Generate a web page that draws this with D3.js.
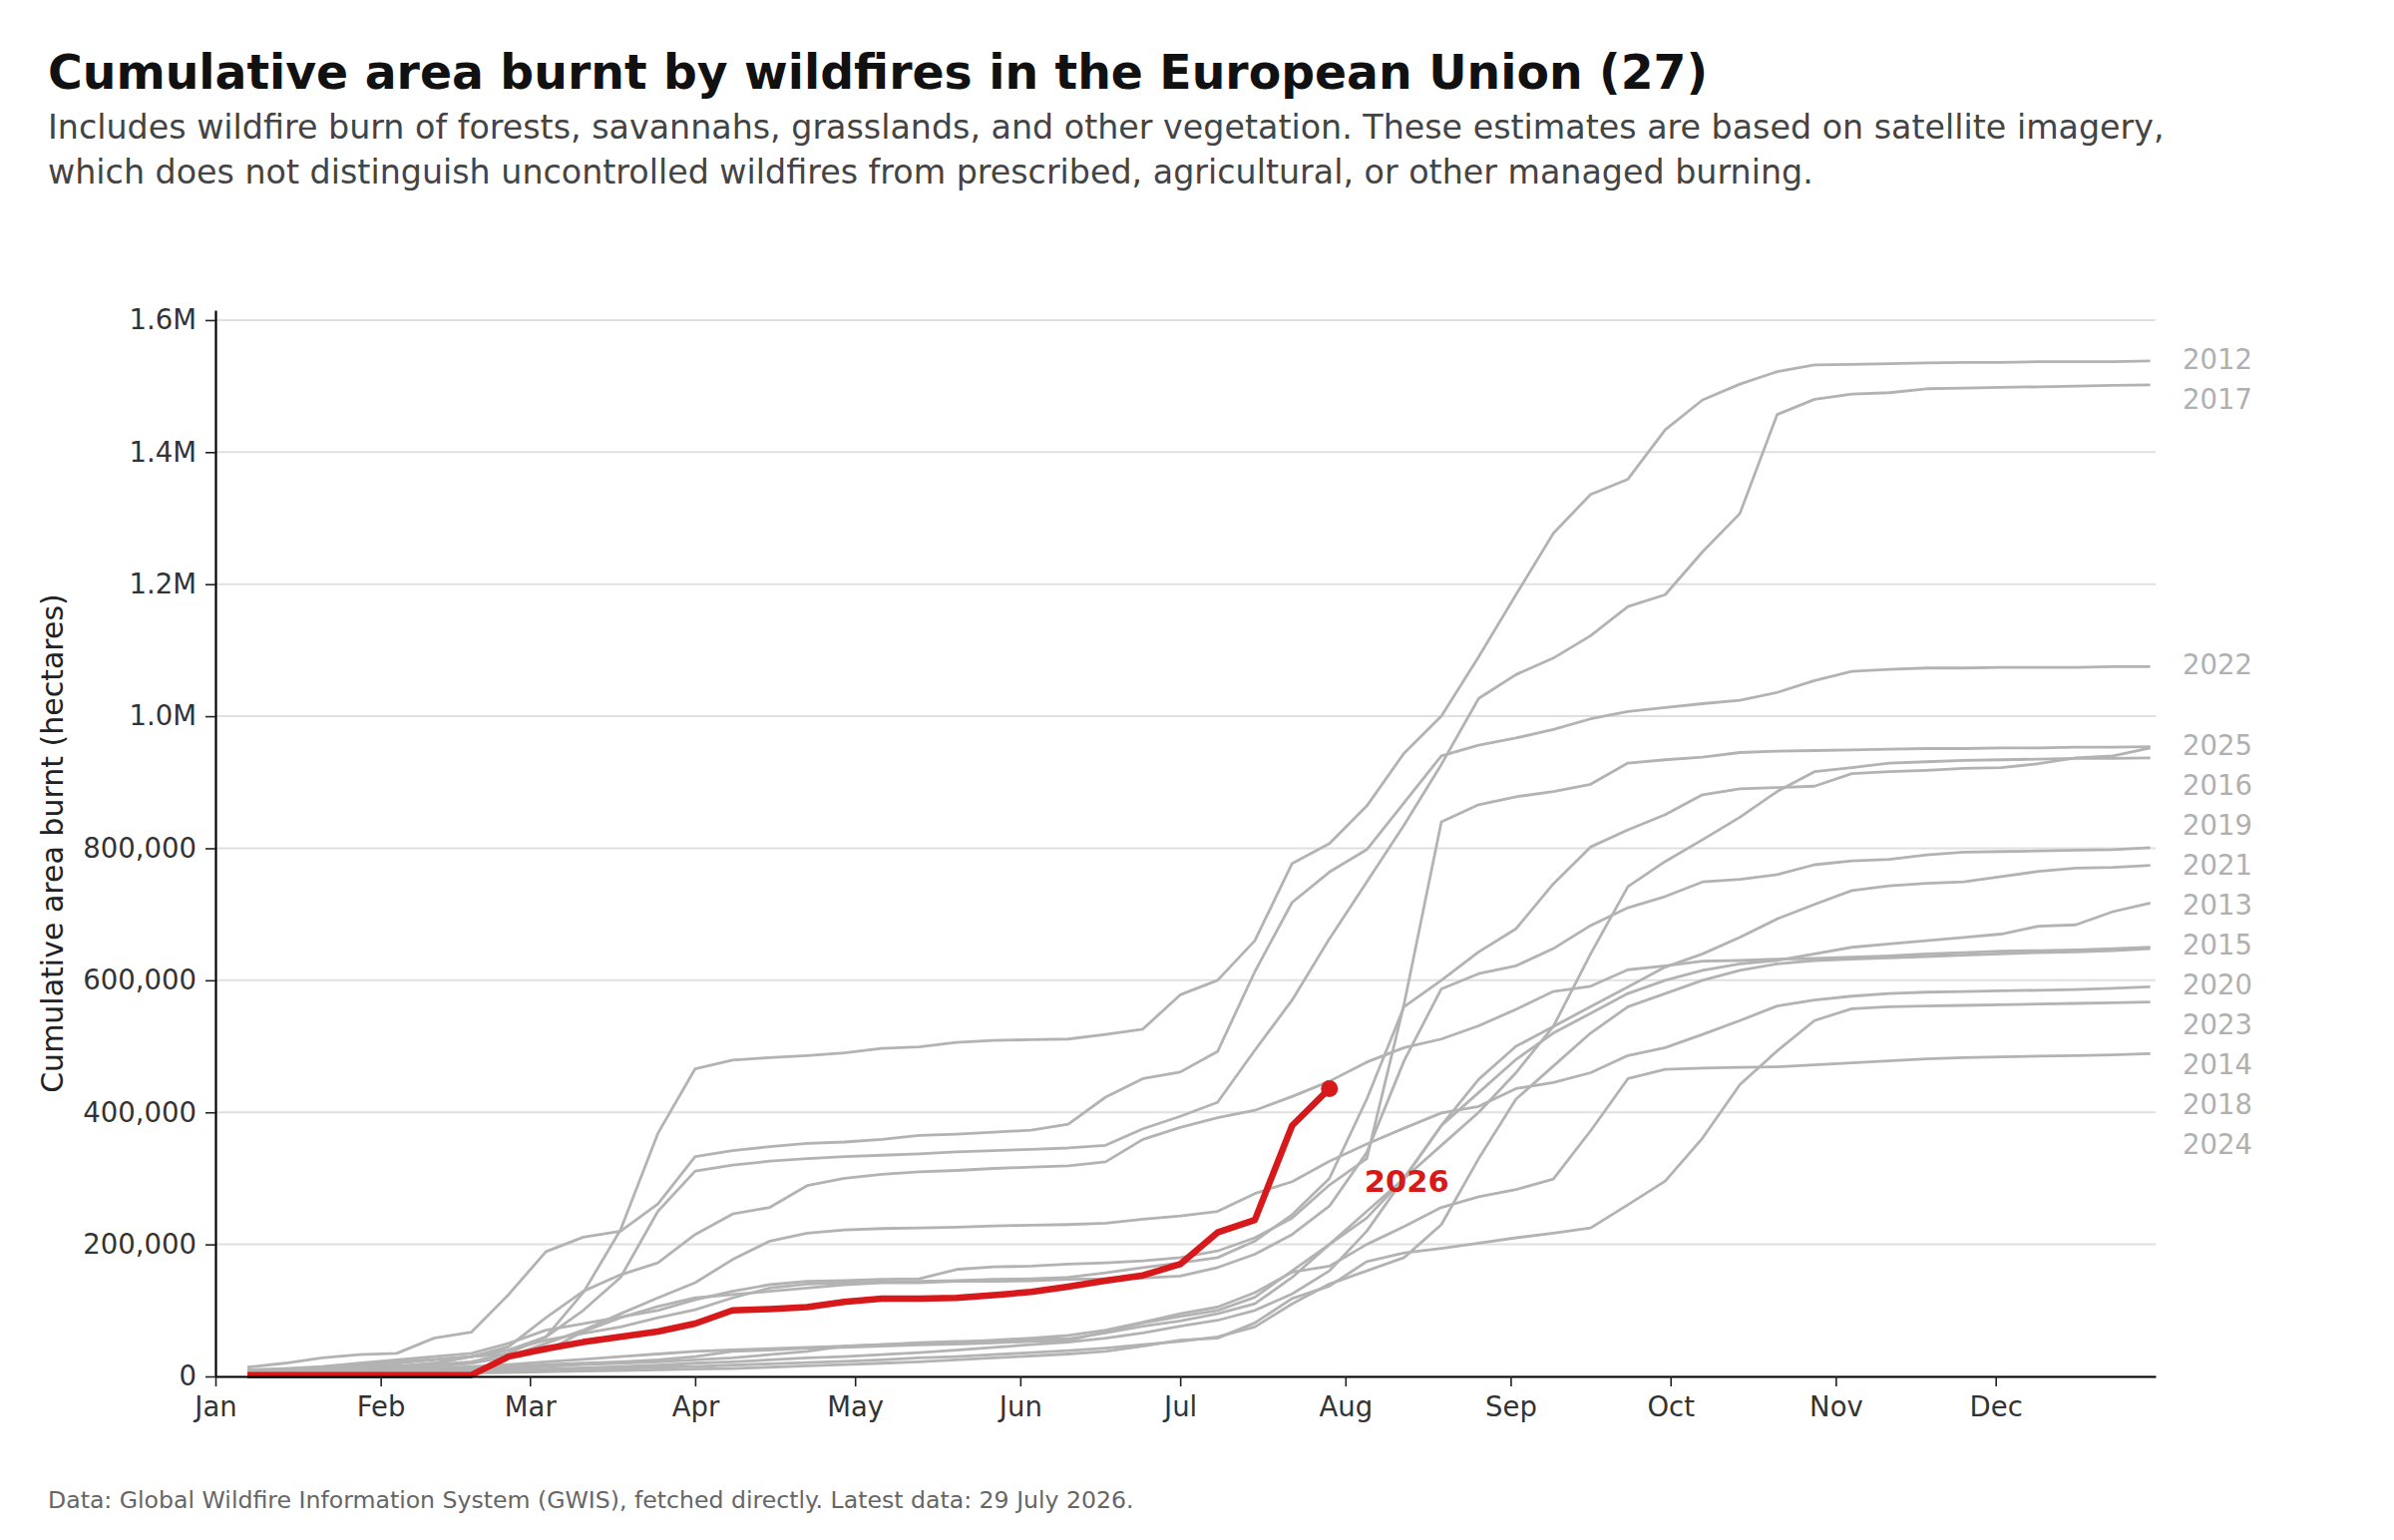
<!DOCTYPE html>
<html>
<head>
<meta charset="utf-8">
<script src="https://cdn.jsdelivr.net/npm/d3@7"></script>
<style>
  html, body { margin: 0; padding: 0; background: #fff; }
  svg { display: block; font-family: "DejaVu Sans", sans-serif; }
</style>
</head>
<body>
<svg id="chart" width="2400" height="1544"></svg>
<script>
// day of year (1 = Jan 1) of each weekly reading
const weekDays = [7, 14, 21, 28, 35, 42, 49, 56, 63, 70, 77, 84, 91, 98, 105, 112, 119, 126,
  133, 140, 147, 154, 161, 168, 175, 182, 189, 196, 203, 210, 217, 224, 231, 238, 245, 252,
  259, 266, 273, 280, 287, 294, 301, 308, 315, 322, 329, 336, 343, 350, 357, 364];

const monthStarts = [1, 32, 60, 91, 121, 152, 182, 213, 244, 274, 305, 335];
const monthLabels = ["Jan", "Feb", "Mar", "Apr", "May", "Jun", "Jul", "Aug", "Sep", "Oct", "Nov", "Dec"];
const yTicks = [0, 200000, 400000, 600000, 800000, 1000000, 1200000, 1400000, 1600000];

// cumulative area burnt, thousand hectares, one value per week
const area2012 = [8, 10, 12, 14, 16, 18, 22, 35, 60, 127, 222, 368,
  466, 479, 483, 486, 490, 497, 499, 506, 509, 510, 511, 518, 526, 578,
  600, 660, 777, 807, 864, 944, 1000, 1090, 1184, 1277, 1336, 1359, 1434,
  1479, 1503, 1522, 1532, 1533, 1534, 1535, 1536, 1536, 1537, 1537, 1537, 1538];
const area2013 = [2, 3, 4, 5, 6, 8, 10, 12, 15, 18, 20, 22,
  25, 28, 33, 38, 46, 48, 51, 53, 53, 56, 57, 66, 76, 84,
  95, 110, 150, 200, 240, 300, 380, 450, 500, 530, 560, 590, 620,
  640, 665, 693, 715, 736, 743, 747, 749, 757, 765, 770, 771, 774];
const area2014 = [5, 6, 8, 10, 12, 15, 20, 30, 50, 70, 95, 119,
  142, 177, 205, 217, 222, 224, 225, 226, 228, 229, 230, 232, 238, 243,
  250, 277, 295, 326, 352, 376, 399, 409, 436, 445, 460, 486, 498,
  518, 539, 561, 570, 576, 580, 582, 583, 584, 585, 586, 588, 590];
const area2015 = [2, 2, 3, 4, 5, 6, 7, 9, 11, 13, 15, 17,
  20, 22, 25, 28, 30, 33, 36, 40, 44, 48, 52, 58, 66, 76,
  85, 100, 125, 160, 220, 300, 380, 430, 480, 520, 550, 580, 600,
  615, 625, 630, 640, 650, 655, 660, 665, 670, 682, 684, 704, 717];
const area2016 = [5, 8, 12, 16, 20, 25, 30, 40, 55, 65, 75, 89,
  101, 119, 134, 140, 142, 143, 144, 145, 147, 148, 150, 157, 165, 172,
  180, 205, 245, 300, 420, 560, 600, 643, 678, 746, 802, 828, 851,
  881, 890, 892, 894, 913, 916, 918, 921, 922, 928, 937, 940, 952];
const area2017 = [5, 7, 9, 12, 15, 20, 30, 40, 60, 100, 150, 250,
  311, 320, 326, 330, 333, 335, 337, 340, 342, 344, 346, 350, 375, 394,
  415, 494, 570, 663, 749, 835, 927, 1027, 1063, 1088, 1122, 1166, 1184,
  1249, 1307, 1457, 1480, 1488, 1490, 1496, 1497, 1498, 1499, 1500, 1501, 1502];
const area2018 = [1, 2, 2, 3, 3, 4, 5, 6, 7, 8, 9, 10,
  11, 12, 14, 16, 18, 20, 22, 25, 28, 31, 34, 38, 46, 55,
  58, 81, 118, 137, 174, 187, 194, 202, 210, 217, 225, 260, 296,
  361, 442, 493, 539, 557, 560, 561, 562, 563, 564, 565, 566, 567];
const area2019 = [3, 4, 5, 6, 8, 10, 12, 15, 18, 20, 22, 25,
  30, 38, 40, 43, 44, 46, 48, 49, 51, 53, 54, 68, 81, 91,
  100, 120, 160, 200, 250, 300, 350, 400, 460, 530, 640, 742, 780,
  813, 847, 886, 916, 922, 929, 931, 933, 934, 935, 936, 936, 937];
const area2020 = [5, 8, 10, 12, 15, 20, 30, 45, 89, 129, 154, 172,
  215, 246, 256, 289, 300, 306, 310, 312, 315, 317, 319, 325, 359, 377,
  392, 403, 424, 447, 476, 498, 511, 531, 556, 583, 591, 616, 622,
  629, 630, 632, 633, 635, 637, 640, 642, 644, 645, 646, 648, 650];
const area2021 = [8, 10, 14, 18, 22, 26, 30, 34, 38, 68, 89, 106,
  119, 124, 129, 134, 139, 142, 142, 144, 144, 145, 147, 148, 149, 152,
  165, 185, 215, 258, 339, 478, 587, 610, 622, 648, 683, 710, 727,
  749, 753, 760, 775, 781, 783, 790, 794, 795, 796, 797, 798, 801];
const area2022 = [14, 20, 28, 33, 35, 58, 67, 124, 189, 211, 220, 261,
  333, 342, 348, 353, 355, 359, 365, 367, 370, 373, 382, 423, 451, 461,
  492, 613, 718, 764, 798, 869, 940, 956, 967, 980, 996, 1007, 1013,
  1019, 1024, 1036, 1054, 1068, 1071, 1073, 1073, 1074, 1074, 1074, 1075, 1075];
const area2023 = [3, 4, 5, 5, 6, 7, 8, 9, 10, 11, 12, 14,
  15, 17, 19, 21, 23, 25, 28, 30, 33, 36, 39, 43, 48, 53,
  60, 75, 110, 140, 160, 180, 230, 330, 420, 470, 520, 560, 580,
  600, 615, 625, 630, 632, 634, 636, 638, 640, 642, 643, 645, 648];
const area2024 = [4, 5, 6, 8, 10, 12, 15, 18, 22, 26, 30, 34,
  38, 40, 42, 44, 46, 48, 50, 52, 55, 58, 62, 70, 82, 95,
  105, 127, 158, 167, 200, 227, 256, 272, 283, 299, 372, 451, 465,
  467, 468, 469, 472, 475, 478, 481, 483, 484, 485, 486, 487, 489];
const area2025 = [10, 12, 15, 20, 25, 30, 35, 50, 70, 80, 90, 100,
  116, 129, 139, 144, 145, 147, 148, 162, 166, 167, 170, 172, 175, 180,
  190, 210, 240, 290, 330, 564, 840, 866, 878, 886, 897, 929, 934,
  938, 945, 947, 948, 949, 950, 951, 951, 952, 952, 953, 953, 954];
// current year, up to 29 July
const area2026 = [2, 2, 2, 2, 2, 2, 2, 30, 42, 52, 60, 68,
  80, 100, 102, 105, 113, 118, 118, 119, 123, 128, 136, 145, 153, 170,
  218, 237, 380, 436];

const pastYears = [2012, 2013, 2014, 2015, 2016, 2017, 2018, 2019, 2020, 2021, 2022, 2023, 2024, 2025];
const pastAreas = [area2012, area2013, area2014, area2015, area2016, area2017, area2018,
  area2019, area2020, area2021, area2022, area2023, area2024, area2025];

const titleText = "Cumulative area burnt by wildfires in the European Union (27)";
const subtitleLines = [
  "Includes wildfire burn of forests, savannahs, grasslands, and other vegetation. These estimates are based on satellite imagery,",
  "which does not distinguish uncontrolled wildfires from prescribed, agricultural, or other managed burning."
];
const sourceText = "Data: Global Wildfire Information System (GWIS), fetched directly. Latest data: 29 July 2026.";

var svg = d3.select("#chart");

var plot = { left: 216, right: 2161, top: 311, bottom: 1380 };
var yMax = 1615000;

// x runs from 1 Jan to 31 Dec
var x = d3.scaleLinear().domain([1, 365]).range([plot.left, plot.right]);
var y = d3.scaleLinear().domain([0, yMax]).range([plot.bottom, plot.top]);

var grey = "#b3b3b3";
var red = "#d7191c";

function fmtY(v) {
    if (v >= 1000000) return (v / 1000000).toFixed(1) + "M";
    return d3.format(",")(v);
}

// gridlines
svg.append("g")
    .selectAll("line")
    .data(yTicks)
    .join("line")
    .attr("x1", plot.left).attr("x2", plot.right)
    .attr("y1", d => y(d)).attr("y2", d => y(d))
    .attr("stroke", "#e0e0e0")
    .attr("stroke-width", 2);

var line = d3.line()
    .x((d, i) => x(weekDays[i]))
    .y(d => y(d * 1000));

// past years
svg.append("g")
    .selectAll("path")
    .data(pastAreas)
    .join("path")
    .attr("d", d => line(d))
    .attr("fill", "none")
    .attr("stroke", grey)
    .attr("stroke-width", 2.8)
    .attr("stroke-linejoin", "round");

// current year
svg.append("path")
    .attr("d", line(area2026))
    .attr("fill", "none")
    .attr("stroke", red)
    .attr("stroke-width", 6.5)
    .attr("stroke-linejoin", "round");

var lastIdx = area2026.length - 1;
var lastX = x(weekDays[lastIdx]);
var lastY = y(area2026[lastIdx] * 1000);

svg.append("circle")
    .attr("cx", lastX).attr("cy", lastY)
    .attr("r", 8.5)
    .attr("fill", red);

svg.append("text")
    .attr("x", lastX + 35)
    .attr("y", lastY + 104)
    .attr("font-size", 30.5)
    .attr("font-weight", "bold")
    .attr("fill", red)
    .text("2026");

// axes
var yAxis = d3.axisLeft(y)
    .tickValues(yTicks)
    .tickFormat(fmtY)
    .tickSize(10)
    .tickSizeOuter(0)
    .tickPadding(9);

var xAxis = d3.axisBottom(x)
    .tickValues(monthStarts)
    .tickFormat((d, i) => monthLabels[i])
    .tickSize(10)
    .tickSizeOuter(0)
    .tickPadding(10);

var gy = svg.append("g")
    .attr("transform", "translate(" + plot.left + ",0)")
    .call(yAxis);
var gx = svg.append("g")
    .attr("transform", "translate(0," + plot.bottom + ")")
    .call(xAxis);

[gx, gy].forEach(function (g) {
    g.select(".domain").attr("stroke", "#000").attr("stroke-width", 2.2);
    g.selectAll(".tick line").attr("stroke", "#222").attr("stroke-width", 1.6);
    g.selectAll(".tick text")
        .attr("font-size", 27.5)
        .attr("font-family", "DejaVu Sans")
        .attr("fill", "#333");
});

// year labels at the right, pushed apart so they don't overlap
var ends = pastYears.map((yr, i) => ({ year: yr, value: pastAreas[i][pastAreas[i].length - 1] }))
    .sort((a, b) => b.value - a.value);
var prev = -Infinity;
ends.forEach(function (e) {
    var pos = Math.max(y(e.value * 1000) - 2, prev + 40);
    e.pos = pos;
    prev = pos;
});

svg.append("g")
    .selectAll("text")
    .data(ends)
    .join("text")
    .attr("x", plot.right + 27)
    .attr("y", d => d.pos + 10)
    .attr("font-size", 27.5)
    .attr("fill", "#b0b0b0")
    .text(d => d.year);

// axis title
svg.append("text")
    .attr("transform", "translate(63," + ((plot.top + plot.bottom) / 2) + ") rotate(-90)")
    .attr("text-anchor", "middle")
    .attr("font-size", 30)
    .attr("fill", "#222")
    .text("Cumulative area burnt (hectares)");

// headings
svg.append("text")
    .attr("x", 48).attr("y", 89)
    .attr("font-size", 47.3)
    .attr("font-weight", "bold")
    .attr("fill", "#111")
    .text(titleText);

svg.append("g")
    .selectAll("text")
    .data(subtitleLines)
    .join("text")
    .attr("x", 48)
    .attr("y", (d, i) => 139 + i * 45)
    .attr("font-size", 33.3)
    .attr("fill", "#444")
    .text(d => d);

svg.append("text")
    .attr("x", 48).attr("y", 1512)
    .attr("font-size", 23.6)
    .attr("fill", "#666")
    .text(sourceText);
</script>
</body>
</html>
